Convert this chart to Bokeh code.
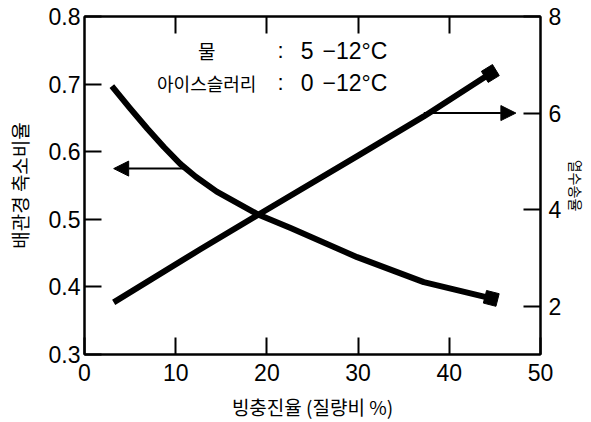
from bokeh.plotting import figure
from bokeh.models import (Range1d, LinearAxis, FixedTicker, Arrow, NormalHead,
                          Label, CustomJSTickFormatter)
from bokeh.embed import file_html
from bokeh.resources import INLINE

# ---- data ----
# 배관경 축소비율 (left axis), decreasing curve
dec_x = [3.0, 5.0, 6.9, 8.7, 10.5, 12.2, 14.5, 18.9, 22.6, 29.9, 37.2, 44.6]
dec_y = [0.697, 0.664, 0.634, 0.607, 0.582, 0.563, 0.541, 0.508, 0.487, 0.444, 0.407, 0.383]
# 열수송율 (right axis), increasing line
inc_x = [3.2, 12.7, 19.1, 30.0, 37.2, 44.5]
inc_y = [2.08, 3.18, 3.9, 5.12, 5.93, 6.82]

x_ticks = [0, 10, 20, 30, 40, 50]
top_ticks = [10, 20, 30, 40]
left_ticks = [0.3, 0.4, 0.5, 0.6, 0.7, 0.8]
right_ticks = [2, 4, 6, 8]

x_label = "빙충진율 (질량비 %)"
left_label = "배관경 축소비율"
right_label = "열수송율"

# arrows pointing to the axes (start x, end x, y)
left_arrow = (11.3, 3.2, 0.575)
right_arrow = (37.2, 47.3, 6.0)

note_names = ["물", "아이스슬러리"]
note_name_sizes = ["19px", "18px"]
note_start = ["5", "0"]
note_end = ["−12°C", "−12°C"]
note_y = [0.749, 0.702]

NUM_FONT = "Liberation Sans"
KR_FONT = "Noto Sans CJK KR"

p = figure(width=591, height=422, x_range=Range1d(0, 50), y_range=Range1d(0.3, 0.8),
           output_backend="svg", toolbar_location=None,
           min_border_left=84, min_border_top=16, min_border_right=51, min_border_bottom=68)
p.extra_y_ranges = {"right": Range1d(1, 8)}
p.grid.visible = False
p.outline_line_color = "black"
p.outline_line_width = 2
p.background_fill_color = "white"
p.border_fill_color = "white"

def style_axis(ax, font_size="23px"):
    ax.axis_line_width = 2
    ax.axis_line_color = "black"
    ax.major_tick_line_width = 2
    ax.major_tick_line_color = "black"
    ax.major_tick_in = 17
    ax.major_tick_out = 0
    ax.minor_tick_line_color = None
    ax.major_label_text_font = NUM_FONT
    ax.major_label_text_font_size = font_size
    ax.major_label_text_color = "black"
    ax.axis_label_text_font = KR_FONT
    ax.axis_label_text_font_style = "normal"
    ax.axis_label_text_color = "black"

xa = p.xaxis[0]
xa.ticker = FixedTicker(ticks=x_ticks)
style_axis(xa)
xa.major_label_standoff = 9
xa.axis_label = x_label
xa.axis_label_text_font_size = "19px"
xa.axis_label_standoff = 9

ya = p.yaxis[0]
ya.ticker = FixedTicker(ticks=left_ticks)
style_axis(ya)
ya.major_label_standoff = 4
ya.axis_label = left_label
ya.axis_label_text_font_size = "19px"
ya.axis_label_standoff = 13

ra = LinearAxis(y_range_name="right", ticker=FixedTicker(ticks=right_ticks))
style_axis(ra)
ra.major_label_standoff = 8
ra.axis_label = right_label
ra.axis_label_text_font_size = "14px"
ra.axis_label_standoff = 2
p.add_layout(ra, "right")

ta = LinearAxis(ticker=FixedTicker(ticks=top_ticks),
                formatter=CustomJSTickFormatter(code="return ''"))
style_axis(ta, font_size="1px")
ta.major_label_standoff = 0
p.add_layout(ta, "above")

# curves
p.line(dec_x, dec_y, line_width=6, line_color="black", line_join="round")
p.line(inc_x, inc_y, line_width=6, line_color="black", line_join="round", y_range_name="right")
p.scatter([dec_x[-1]], [dec_y[-1]], marker="square", size=13, angle=-0.25,
          fill_color="black", line_color="black")
p.scatter([inc_x[-1]], [inc_y[-1]], marker="square", size=13, angle=0.55,
          fill_color="black", line_color="black", y_range_name="right")

# arrows
p.add_layout(Arrow(end=NormalHead(size=15, fill_color="black", line_color="black"),
                   x_start=left_arrow[0], x_end=left_arrow[1],
                   y_start=left_arrow[2], y_end=left_arrow[2],
                   line_width=2, line_color="black"))
p.add_layout(Arrow(end=NormalHead(size=15, fill_color="black", line_color="black"),
                   x_start=right_arrow[0], x_end=right_arrow[1],
                   y_start=right_arrow[2], y_end=right_arrow[2],
                   line_width=2, line_color="black", y_range_name="right"))

# legend-like note
for name, size, a, b, yy in zip(note_names, note_name_sizes, note_start, note_end, note_y):
    p.add_layout(Label(x=13.4, y=yy, text=name, text_font=KR_FONT, text_font_size=size,
                       text_align="center", text_baseline="middle", text_color="black"))
    p.add_layout(Label(x=21.5, y=yy, text=":", text_font=NUM_FONT, text_font_size="22px",
                       text_align="center", text_baseline="middle", text_color="black"))
    p.add_layout(Label(x=23.7, y=yy, text=a, text_font=NUM_FONT, text_font_size="23px",
                       text_align="left", text_baseline="middle", text_color="black"))
    p.add_layout(Label(x=26.1, y=yy, text=b, text_font=NUM_FONT, text_font_size="23px",
                       text_align="left", text_baseline="middle", text_color="black"))

open("out.html", "w").write(file_html(p, INLINE))
